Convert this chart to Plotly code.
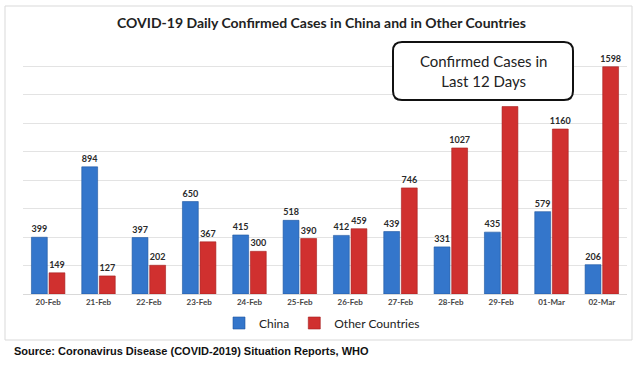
import plotly.graph_objects as go

dates = ["20-Feb", "21-Feb", "22-Feb", "23-Feb", "24-Feb", "25-Feb",
         "26-Feb", "27-Feb", "28-Feb", "29-Feb", "01-Mar", "02-Mar"]
china = [399, 894, 397, 650, 415, 518, 412, 439, 331, 435, 579, 206]
other = [149, 127, 202, 367, 300, 390, 459, 746, 1027, 1318, 1160, 1598]

title_text = "COVID-19 Daily Confirmed Cases in China and in Other Countries"
box_text = "Confirmed Cases in<br>Last 12 Days"
source_text = "Source: Coronavirus Disease (COVID-2019) Situation Reports, WHO"

W, H = 644, 365
L, R, T, B = 23, 17, 38, 71
PW, PH = W - L - R, H - T - B


def px(x):
    return (x - L) / PW


def py(y):
    return (H - B - y) / PH


# label of 29-Feb "Other Countries" is hidden behind the callout box in the source
other_text = [str(v) for v in other]
other_text[dates.index("29-Feb")] = ""

label_font = dict(family="Lato", size=9, color="#2a2a2a", weight="bold")

fig = go.Figure()
fig.add_trace(go.Bar(
    x=dates, y=china, name="China",
    marker=dict(color="#3476cb", line=dict(color="#1f55a0", width=0.6)),
    text=[str(v) for v in china], textposition="outside",
    textfont=label_font, constraintext="none",
    cliponaxis=False,
))
fig.add_trace(go.Bar(
    x=dates, y=other, name="Other Countries",
    marker=dict(color="#d0302f", line=dict(color="#a51e1e", width=0.6)),
    text=other_text, textposition="outside",
    textfont=label_font, constraintext="none",
    cliponaxis=False,
))

# rounded callout box path (pixel coords -> paper)
x0, x1, y0, y1, r = 393, 573, 42, 100, 9
pts = [
    f"M {px(x0 + r)},{py(y0)}",
    f"L {px(x1 - r)},{py(y0)}",
    f"Q {px(x1)},{py(y0)} {px(x1)},{py(y0 + r)}",
    f"L {px(x1)},{py(y1 - r)}",
    f"Q {px(x1)},{py(y1)} {px(x1 - r)},{py(y1)}",
    f"L {px(x0 + r)},{py(y1)}",
    f"Q {px(x0)},{py(y1)} {px(x0)},{py(y1 - r)}",
    f"L {px(x0)},{py(y0 + r)}",
    f"Q {px(x0)},{py(y0)} {px(x0 + r)},{py(y0)} Z",
]

fig.update_layout(
    width=W, height=H,
    margin=dict(l=L, r=R, t=T, b=B),
    paper_bgcolor="white", plot_bgcolor="white",
    barmode="group", bargap=0.3, bargroupgap=0.1,
    font=dict(family="Lato", color="#222"),
    showlegend=True,
    legend=dict(orientation="h", x=px(322), xanchor="center",
                y=py(323), yanchor="middle",
                font=dict(family="Lato", size=12, color="#222"),
                itemwidth=30, traceorder="normal"),
    xaxis=dict(showgrid=False, showline=True, linecolor="#d9d9d9",
               ticks="", tickfont=dict(family="Lato", size=8, color="#444", weight="bold")),
    yaxis=dict(range=[0, 1800], dtick=200, showticklabels=False,
               showgrid=True, gridcolor="#e3e3e3", gridwidth=1,
               zeroline=False, fixedrange=True),
    shapes=[
        dict(type="rect", xref="paper", yref="paper",
             x0=px(5), x1=px(632), y0=py(340), y1=py(6),
             line=dict(color="#d9d9d9", width=1), layer="below"),
        dict(type="path", xref="paper", yref="paper", path=" ".join(pts),
             fillcolor="white", line=dict(color="#111", width=2), layer="above"),
    ],
    annotations=[
        dict(text=f"<b>{title_text}</b>", xref="paper", yref="paper",
             x=px(321), y=py(22), xanchor="center", yanchor="middle",
             showarrow=False, font=dict(family="Lato", size=14, color="#222")),
        dict(text=box_text, xref="paper", yref="paper",
             x=px(483), y=py(71), xanchor="center", yanchor="middle",
             showarrow=False, font=dict(family="Lato", size=15, color="#222")),
        dict(text=f"<b>{source_text}</b>", xref="paper", yref="paper",
             x=px(12), y=py(351), xanchor="left", yanchor="middle",
             showarrow=False, font=dict(family="Liberation Sans", size=11, color="#111")),
    ],
)

fig.write_html("out.html", config={"displayModeBar": False},
               post_script="document.body.style.margin='0';")
